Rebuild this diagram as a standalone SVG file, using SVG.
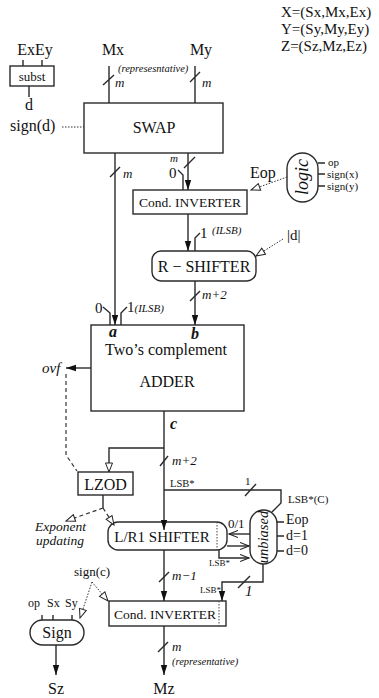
<svg xmlns="http://www.w3.org/2000/svg" width="379" height="698" viewBox="0 0 379 698">
<defs>
<marker id="fa" markerUnits="userSpaceOnUse" markerWidth="12" markerHeight="8" refX="10" refY="4" orient="auto"><path d="M0,0.8 L10,4 L0,7.2 z" fill="#111" stroke="none"/></marker>
<marker id="ha" markerUnits="userSpaceOnUse" markerWidth="12" markerHeight="10" refX="10" refY="5" orient="auto"><path d="M1,1.5 L10,5 L1,8.5 z" fill="#fff" stroke="#222" stroke-width="1" stroke-dasharray="none"/></marker>
<marker id="va" markerUnits="userSpaceOnUse" markerWidth="12" markerHeight="9" refX="9" refY="4.5" orient="auto"><path d="M0,1 L9,4.5 L0,8" fill="none" stroke="#222" stroke-width="1.1" stroke-dasharray="none"/></marker>
</defs>
<style>
.ln{fill:none;stroke:#2a2a2a;stroke-width:1.4}
.dot{fill:none;stroke:#333;stroke-width:1;stroke-dasharray:1.5 1.5}
.dash{fill:none;stroke:#333;stroke-width:1.2;stroke-dasharray:4 3}
.bx{fill:#fff;stroke:#2a2a2a;stroke-width:1.4}
.dv{fill:none;stroke:#444;stroke-width:1;stroke-dasharray:1.5 1.5}
text{font-family:"Liberation Serif","Times New Roman",serif;fill:#111}
.t16{font-size:16px}
.t15{font-size:15px}
.t14{font-size:14px}
.t13{font-size:13px}
.t12{font-size:12px}
.t11{font-size:11px}
.t10{font-size:10.5px}
.t9{font-size:9px}
.it{font-style:italic}
.bi{font-weight:bold;font-style:italic}
.c{text-anchor:middle}
</style>

<g id="legend">
<text class="t15" x="281" y="17">X=(Sx,Mx,Ex)</text>
<text class="t15" x="281" y="34">Y=(Sy,My,Ey)</text>
<text class="t15" x="281" y="51">Z=(Sz,Mz,Ez)</text>
</g>

<g id="inputs">
<text class="t16 c" x="35" y="55">ExEy</text>
<text class="t16 c" x="113" y="55">Mx</text>
<text class="t16 c" x="201" y="55">My</text>
<text class="t16 c" x="29" y="110">d</text>
<text class="t16" x="10" y="131">sign(d)</text>
</g>

<g id="subst">
<rect class="bx" x="10" y="66" width="44" height="20"/>
<text class="t13 c" x="32" y="81">subst</text>
</g>

<g id="swap">
<rect class="bx" x="84" y="103" width="139" height="50"/>
<text class="t16 c" x="154" y="133">SWAP</text>
</g>

<g id="condinv1">
<rect class="bx" x="133" y="190" width="114" height="24"/>
<text class="c" style="font-size:13.5px" x="190" y="207">Cond. INVERTER</text>
</g>

<g id="rshifter">
<rect class="bx" x="152" y="251" width="104" height="30" rx="9"/>
<text class="t16 c" x="204" y="272">R − SHIFTER</text>
</g>

<g id="logic">
<rect class="bx" x="287" y="153" width="31" height="49" rx="15.5"/>
<text class="it c" style="font-size:18px" transform="translate(308,177) rotate(-90)">logic</text>
<text class="t11" x="328" y="166">op</text>
<text class="t11" x="327" y="178">sign(x)</text>
<text class="t11" x="327" y="190">sign(y)</text>
</g>

<g id="adder">
<rect class="bx" x="91" y="325" width="153" height="86"/>
<text class="t16 bi c" x="113" y="337">a</text>
<text class="t16 bi c" x="195" y="339">b</text>
<text class="t16 c" x="166" y="355">Two’s complement</text>
<text class="t16 c" x="167" y="387">ADDER</text>
</g>

<g id="lzod">
<rect class="bx" x="78" y="472" width="55" height="23"/>
<text class="t16 c" x="105.5" y="490">LZOD</text>
</g>

<g id="lr1shifter">
<rect class="bx" x="108" y="522" width="119" height="28" rx="10"/>
<path class="dv" d="M217,522 V550"/>
<text class="t15 c" x="162" y="542">L/R1 SHIFTER</text>
</g>

<g id="unbiased">
<rect class="bx" x="250" y="510" width="27" height="54" rx="13.5"/>
<text class="it c" style="font-size:14.5px" transform="translate(268,537) rotate(-90)">unbiased</text>
<text class="t14" x="286" y="524">Eop</text>
<text class="t14" x="286" y="540">d=1</text>
<text class="t14" x="286" y="555">d=0</text>
</g>

<g id="condinv2">
<rect class="bx" x="109" y="601" width="117" height="25"/>
<path class="dv" d="M219,601 V626"/>
<text style="font-size:13.5px" x="114" y="619">Cond. INVERTER</text>
</g>

<g id="sign">
<rect class="bx" x="30" y="620" width="54" height="25" rx="12.5"/>
<text class="t16 c" x="57" y="638">Sign</text>
<text class="t12" x="28" y="607">op</text>
<text class="t12" x="47" y="607">Sx</text>
<text class="t12" x="65" y="607">Sy</text>
</g>

<g id="outputs">
<text class="t16 c" x="56" y="694">Sz</text>
<text class="t16 c" x="164" y="694">Mz</text>
</g>

<g id="connectors">
<path class="ln" d="M23,60 V66 M42,60 V66 M29,86 V97"/>
<path class="dot" d="M62,127 H84"/>
<path class="ln" d="M109,66 V103 M103,85 L114,75"/>
<path class="ln" d="M195,66 V103 M190,82 L200,72"/>
<path class="ln" d="M115,153 V325" marker-end="url(#fa)"/>
<path class="ln" d="M110,177 L120,167"/>
<path class="ln" d="M188,153 V190" marker-end="url(#fa)"/>
<path class="ln" d="M184,168 L195,157 M178,170 L183,175 V190"/>
<path class="ln" d="M188,214 V251" marker-end="url(#fa)"/>
<path class="ln" d="M195,251 V238 L200,233"/>
<path class="ln" d="M195,281 V325" marker-end="url(#fa)"/>
<path class="ln" d="M190,301 L200,291"/>
<path class="ln" d="M103,307 L110,313 V325 M121,325 V313 L127,307"/>
<path class="ln" d="M91,368 H66" marker-end="url(#fa)"/>
<path class="dash" d="M66,374 V455 L77,471"/>
<path class="ln" d="M164,411 V530" marker-end="url(#fa)"/>
<path class="ln" d="M160,466 L168,456"/>
<path class="ln" d="M164,448 H109 V472" marker-end="url(#ha)"/>
<path class="ln" d="M164,490 H281 V503 L272,512 M245,496 L256,484"/>
<path class="ln" d="M103,495 V508"/>
<path class="dash" d="M103,508 L66,521" marker-end="url(#ha)"/>
<path class="dash" d="M103,508 L114,525" marker-end="url(#ha)"/>
<path class="dot" d="M287,177 L251,190" marker-end="url(#ha)"/>
<path class="ln" d="M318,163 H325 M318,174 H325 M318,186 H325"/>
<path class="dot" d="M283,239 L256,256" marker-end="url(#ha)"/>
<path class="ln" d="M277,522 H284 M277,536 H284 M277,551 H284"/>
<path class="ln" d="M250,534 H229" marker-end="url(#va)"/>
<path class="ln" d="M227,546 H249" marker-end="url(#va)"/>
<path class="ln" d="M219,550 V558 H249" marker-end="url(#va)"/>
<path class="ln" d="M164,550 V601" marker-end="url(#fa)"/>
<path class="ln" d="M159,582 L169,572"/>
<path class="ln" d="M263,564 V582 H222 V601" marker-end="url(#fa)"/>
<path class="ln" d="M238,588 L250,576"/>
<path class="dot" d="M92,582 L80,618" marker-end="url(#ha)"/>
<path class="dot" d="M92,582 L108,601" marker-end="url(#ha)"/>
<path class="ln" d="M42,615 V620 M53,615 V620 M72,615 V620"/>
<path class="ln" d="M56,645 V675" marker-end="url(#fa)"/>
<path class="ln" d="M164,626 V675" marker-end="url(#fa)"/>
<path class="ln" d="M158,652 L168,642"/>
</g>

<g id="labels">
<text class="t10 it" x="118" y="72">(represesntative)</text>
<text class="t13 it" x="115" y="87">m</text>
<text class="t13 it" x="202" y="87">m</text>
<text class="t13 it" x="123" y="178">m</text>
<text class="t11 it" x="170" y="162">m</text>
<text class="t15" x="169" y="178">0</text>
<text class="t16" x="250" y="178">Eop</text>
<text class="t15" x="287" y="240">|d|</text>
<text class="t15" x="200" y="238">1</text>
<text class="t11 it" x="212" y="234">(ILSB)</text>
<text class="t13 it" x="202" y="299">m+2</text>
<text class="t15" x="95" y="313">0</text>
<text class="t15" x="127" y="312">1<tspan class="t11 it">(ILSB)</tspan></text>
<text class="t15 it" x="42" y="373">ovf</text>
<text class="t16 bi" x="170" y="429">c</text>
<text class="t13 it" x="172" y="465">m+2</text>
<text class="t10" x="170" y="487">LSB*</text>
<text class="t11" x="245" y="485">1</text>
<text class="t11" x="288" y="503">LSB*(C)</text>
<text class="it" style="font-size:13.5px" x="35" y="531">Exponent</text>
<text class="it" style="font-size:13.5px" x="36" y="545">updating</text>
<text class="t13" x="228" y="528">0/1</text>
<text class="t9" x="209" y="566">LSB*</text>
<text class="t13 it" x="172" y="580">m−1</text>
<text class="t13" x="74" y="576">sign(c)</text>
<text class="t9" x="200" y="593">LSB*</text>
<text class="t15 it" x="245" y="596">1</text>
<text class="t13 it" x="172" y="651">m</text>
<text class="t10 it" x="172" y="665">(representative)</text>
</g>
</svg>
